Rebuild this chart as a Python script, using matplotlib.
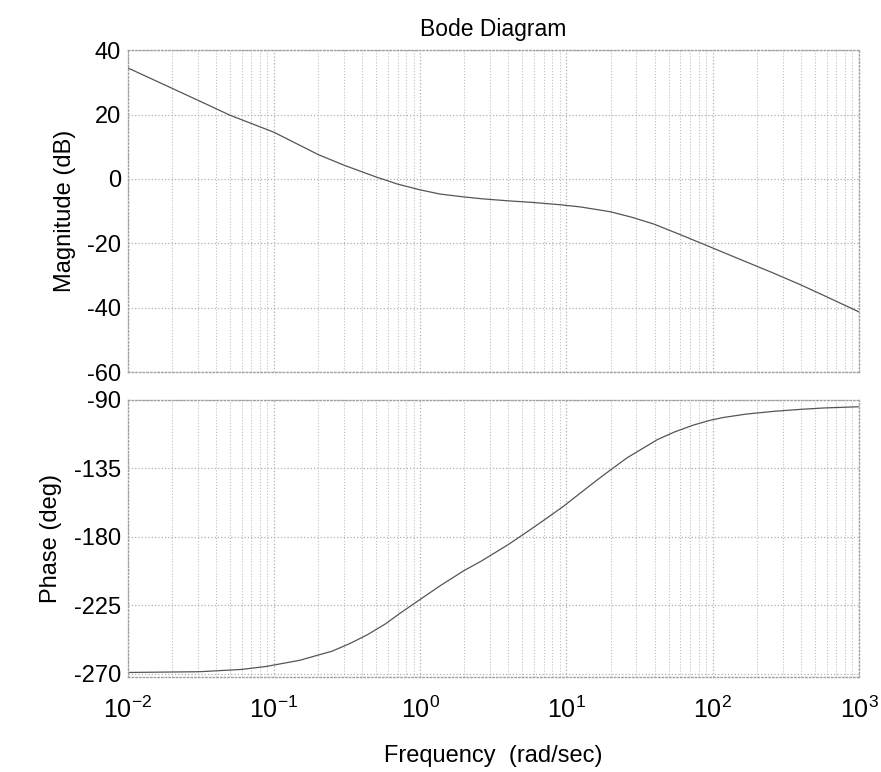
import numpy as np
import matplotlib.pyplot as plt
from matplotlib.ticker import LogLocator, FixedLocator

plt.rcParams['font.family'] = ['Liberation Sans', 'DejaVu Sans']
plt.rcParams['mathtext.fontset'] = 'custom'
plt.rcParams['mathtext.rm'] = 'Liberation Sans'
plt.rcParams['mathtext.it'] = 'Liberation Sans'
plt.rcParams['axes.unicode_minus'] = False

# magnitude response
mag_freq = [0.01, 0.02, 0.03, 0.05, 0.1, 0.2, 0.3, 0.5, 0.7, 1.0, 1.37, 2.0,
            2.7, 4.0, 5.9, 9.0, 12.5, 20, 28, 39.5, 60, 97, 160, 262, 400,
            614, 1000]
mag_db = [34.5, 28.2, 24.5, 19.8, 14.5, 7.6, 4.3, 0.6, -1.6, -3.4, -4.7, -5.6,
          -6.2, -6.8, -7.3, -8.0, -8.7, -10.2, -11.9, -14.0, -17.3, -21.2,
          -25.3, -29.3, -32.9, -36.8, -41.3]

# phase response
ph_freq = [0.01, 0.031, 0.06, 0.089, 0.15, 0.25, 0.33, 0.43, 0.58, 0.73, 1.0,
           1.37, 2.0, 2.6, 4.0, 5.7, 7.5, 9.5, 12.5, 16, 20, 26, 33, 42, 55,
           74, 95, 119, 170, 262, 400, 575, 1000]
ph_deg = [-269, -268.5, -267, -265, -261, -255, -250, -244.5, -237, -230, -221,
          -212, -202, -196, -185, -175, -167, -160, -151, -143, -136, -128,
          -122, -116, -111, -106.5, -103.5, -101.5, -99.3, -97.5, -96.2,
          -95.3, -94.5]

mag_ticks = [-60, -40, -20, 0, 20, 40]
ph_ticks = [-270, -225, -180, -135, -90]

fig = plt.figure(figsize=(8.81, 7.72), dpi=100)
ax1 = fig.add_axes([0.145, 0.518, 0.830, 0.417])
ax2 = fig.add_axes([0.145, 0.123, 0.830, 0.359], sharex=ax1)

line_kw = dict(color='#555555', lw=0.9)
ax1.semilogx(mag_freq, mag_db, **line_kw)
ax2.semilogx(ph_freq, ph_deg, **line_kw)

for ax in (ax1, ax2):
    ax.set_xlim(1e-2, 1e3)
    ax.xaxis.set_major_locator(LogLocator(base=10, numticks=10))
    ax.xaxis.set_minor_locator(LogLocator(base=10, subs=np.arange(2, 10), numticks=20))
    ax.grid(True, which='major', color='#b0b0b0', linestyle=':', lw=0.9)
    ax.grid(True, which='minor', axis='x', color='#c0c0c0', linestyle=':', lw=0.8)
    ax.tick_params(which='both', length=0, labelsize=17, pad=5)
    for s in ax.spines.values():
        s.set_color('#a0a0a0')
        s.set_linestyle(':')
        s.set_linewidth(1.0)

ax1.set_ylim(-60, 40)
ax1.yaxis.set_major_locator(FixedLocator(mag_ticks))
ax1.tick_params(axis='x', labelbottom=False)
ax1.set_ylabel('Magnitude (dB)', fontsize=17, labelpad=8)
ax1.set_title('Bode Diagram', fontsize=16.5, pad=10)

ax2.set_ylim(-272, -90)
ax2.yaxis.set_major_locator(FixedLocator(ph_ticks))
ax2.set_ylabel('Phase (deg)', fontsize=17, labelpad=8)
ax2.set_xlabel('Frequency  (rad/sec)', fontsize=17, labelpad=16)
ax2.tick_params(axis='x', labelsize=18, pad=14)

fig.savefig('out.png', dpi=100)
